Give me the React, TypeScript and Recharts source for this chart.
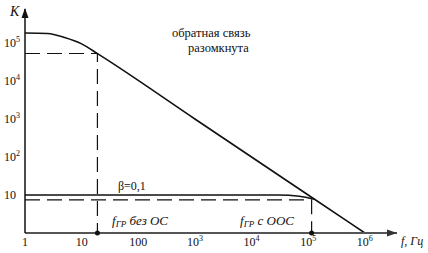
import React from 'react';
import { Customized, Line, LineChart, ReferenceDot, XAxis, YAxis } from 'recharts';

// Frequency response of an amplifier, log–log axes.
const FREQ_TICKS = [1, 10, 100, 1e3, 1e4, 1e5, 1e6];
const GAIN_TICKS = [10, 100, 1e3, 1e4, 1e5];

// open loop ("обратная связь разомкнута")
const openLoop = [
  { f: 1, k: 1.83e5 },
  { f: 2.5, k: 1.78e5 },
  { f: 5, k: 1.4e5 },
  { f: 10, k: 9.5e4 },
  { f: 20, k: 5e4 },
  { f: 1e3, k: 1e3 },
  { f: 1e5, k: 10 },
  { f: 1e6, k: 1 },
];

// closed loop, β = 0,1
const closedLoop = [
  { f: 1, k: 10 },
  { f: 3e4, k: 10 },
  { f: 7e4, k: 9.3 },
  { f: 1.3e5, k: 7.7 },
];

// cut-off frequency guides
const cutoffOpen = [
  { f: 1, k: 5.3e4 },
  { f: 19, k: 5.3e4 },
  { f: 19, k: 1 },
];
const cutoffClosed = [
  { f: 1, k: 7.4 },
  { f: 1.15e5, k: 7.4 },
  { f: 1.15e5, k: 1 },
];

const FONT = 'Liberation Serif, DejaVu Serif, Times New Roman, serif';
const INK = '#111';
const serif = { fontFamily: FONT };

function powLabel(v: number, plainBelow: number) {
  if (v < plainBelow) return [String(v), null] as const;
  return ['10', String(Math.round(Math.log10(v)))] as const;
}

function XTick({ x, y, payload }: any) {
  const [base, exp] = powLabel(payload.value, 1000);
  return (
    <text x={x} y={y + 13} textAnchor="middle" style={serif} fontSize={12} fill={INK}>
      {base}
      {exp && <tspan dy={-5} fontSize={8}>{exp}</tspan>}
    </text>
  );
}

function YTick({ x, y, payload }: any) {
  const [base, exp] = powLabel(payload.value, 100);
  return (
    <text x={x - 21} y={y + 4} textAnchor="start" style={serif} fontSize={12} fill={INK}>
      {base}
      {exp && <tspan dy={-5} fontSize={8}>{exp}</tspan>}
    </text>
  );
}

const arrowUp = ({ cx, cy }: any) => (
  <polygon points={`${cx},${cy - 1} ${cx - 3.5},${cy + 9} ${cx + 3.5},${cy + 9}`} fill={INK} />
);
const arrowRight = ({ cx, cy }: any) => (
  <polygon points={`${cx},${cy} ${cx - 10},${cy - 3.5} ${cx - 10},${cy + 3.5}`} fill="#333" />
);

function Annotations() {
  return (
    <g style={serif} fill={INK}>
      <text x={10} y={16} style={serif} fontSize={14} fontStyle="italic">K</text>
      <text x={172} y={37} style={serif} fontSize={12.5}>обратная связь</text>
      <text x={188} y={52} style={serif} fontSize={12.5}>разомкнута</text>
      <text x={118} y={190} style={serif} fontSize={12}>β=0,1</text>
      <text x={112} y={225} style={serif} fontSize={13} fontStyle="italic">
        f<tspan fontSize={9} dy={2}>ГР</tspan>
        <tspan dy={-2}> без ОС</tspan>
      </text>
      <text x={240} y={225} style={serif} fontSize={13} fontStyle="italic">
        f<tspan fontSize={9} dy={2}>ГР</tspan>
        <tspan dy={-2}> с ООС</tspan>
      </text>
      <text x={401} y={245} style={serif} fontSize={12} fontStyle="italic">f, Гц</text>
    </g>
  );
}

export default function App() {
  return (
    <div style={{ position: 'absolute', left: 0, top: 0, background: '#fff' }}>
      <LineChart width={428} height={253} margin={{ top: 9, right: 31, bottom: 0, left: 0 }}>
        <XAxis
          dataKey="f"
          type="number"
          scale="log"
          domain={[1, 3.7e6]}
          allowDataOverflow
          ticks={FREQ_TICKS}
          interval={0}
          tick={<XTick />}
          tickLine={false}
          tickSize={0}
          tickMargin={0}
          height={20}
          axisLine={{ stroke: '#555', strokeWidth: 2 }}
        />
        <YAxis
          dataKey="k"
          type="number"
          scale="log"
          domain={[1, 7.85e5]}
          allowDataOverflow
          ticks={GAIN_TICKS}
          interval={0}
          tick={<YTick />}
          tickLine={false}
          tickSize={0}
          tickMargin={0}
          width={25}
          axisLine={{ stroke: INK, strokeWidth: 1.5 }}
        />
        <Line data={cutoffOpen} dataKey="k" type="linear" stroke={INK} strokeWidth={1.2}
          strokeDasharray="15 7" dot={false} isAnimationActive={false} />
        <Line data={cutoffClosed} dataKey="k" type="linear" stroke={INK} strokeWidth={1.2}
          strokeDasharray="15 7" dot={false} isAnimationActive={false} />
        <Line data={openLoop} dataKey="k" type="monotone" stroke={INK} strokeWidth={1.6}
          dot={false} isAnimationActive={false} />
        <Line data={closedLoop} dataKey="k" type="monotone" stroke={INK} strokeWidth={1.6}
          dot={false} isAnimationActive={false} />
        <ReferenceDot x={19} y={1} r={2.5} fill={INK} stroke="none" ifOverflow="visible" />
        <ReferenceDot x={1.15e5} y={1} r={2.5} fill={INK} stroke="none" ifOverflow="visible" />
        <ReferenceDot x={1} y={7.85e5} ifOverflow="visible" shape={arrowUp} />
        <ReferenceDot x={3.7e6} y={1} ifOverflow="visible" shape={arrowRight} />
        <Customized component={Annotations} />
      </LineChart>
    </div>
  );
}
